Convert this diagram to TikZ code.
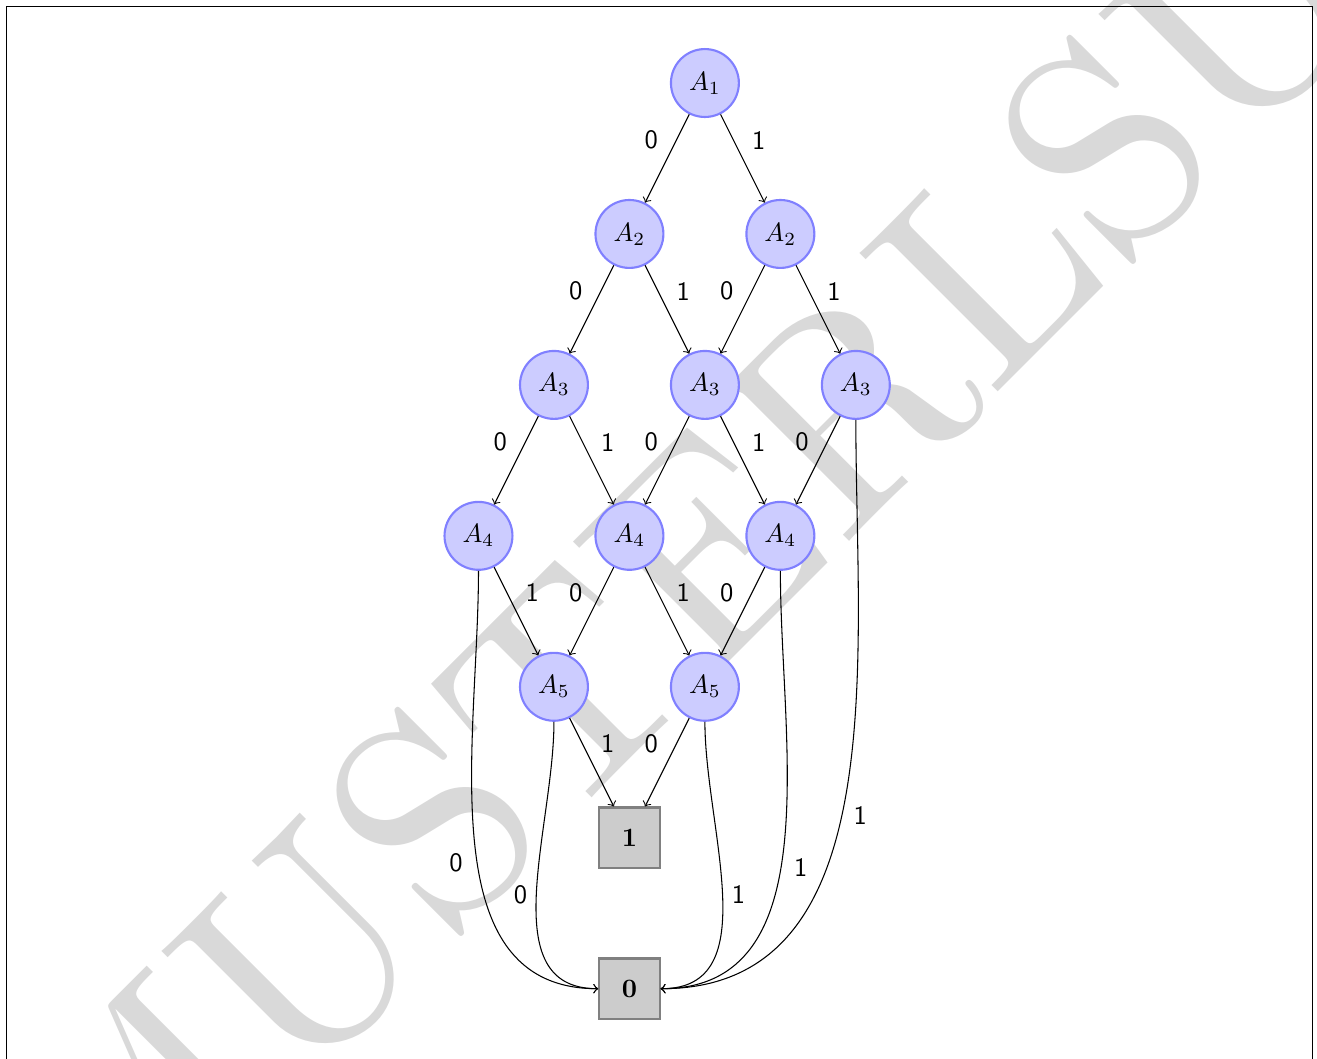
\documentclass[tikz,border=0pt]{standalone}
\usepackage{amsmath}
\usepackage{tikz}
\usetikzlibrary{calc,backgrounds}
\tikzstyle{obdd}=[
  >=to, font=\sffamily, auto
]
\tikzstyle{varnode}=[
  draw=blue!50, fill=blue!20, circle, thick, inner sep=0pt, minimum size=0.9cm
]
\tikzstyle{terminal}=[
  draw=gray, fill=gray!40, thick, inner sep=0pt, minimum size=0.8cm, font=\rmfamily\bfseries
]
\tikzstyle{edge}=[
  ->
]
\tikzstyle{wmark}=[
  text=gray!30, inner sep=0pt, rotate=45, scale=10.8, transform shape, font=\rmfamily
]

\begin{document}
\begin{tikzpicture}[obdd]
  \def\lvl{2}
  \useasboundingbox (-9.34,-12.93) rectangle (8.11,1.10);
  \clip (-9.34,-12.93) rectangle (8.11,1.10);
  % watermark and page frame
  \coordinate (wmbase) at (3.74,-4.24);
  \node (wm) at (wmbase) [wmark, anchor=base west] {\llap{MUSTER}LSUNG};
  \draw [line width=0.5pt] (-9.25,-13.5) -- (-9.25,1.01) -- (8.05,1.01) -- (8.05,-13.5);

  \node (a1) at (0, 0) [varnode] {$A_1$};
  \node (a2a) at (-1, -\lvl) [varnode] {$A_2$};
  \node (a2b) at (1, -\lvl) [varnode] {$A_2$};
  \node (a3a) at (-2, -2*\lvl) [varnode] {$A_3$};
  \node (a3b) at (0, -2*\lvl) [varnode] {$A_3$};
  \node (a3c) at (2, -2*\lvl) [varnode] {$A_3$};
  \node (a4a) at (-3, -3*\lvl) [varnode] {$A_4$};
  \node (a4b) at (-1, -3*\lvl) [varnode] {$A_4$};
  \node (a4c) at (1, -3*\lvl) [varnode] {$A_4$};
  \node (a5a) at (-2, -4*\lvl) [varnode] {$A_5$};
  \node (a5b) at (0, -4*\lvl) [varnode] {$A_5$};
  \node (one) at (-1, -5*\lvl) [terminal] {1};
  \node (zero) at (-1, -6*\lvl) [terminal] {0};

  \draw [edge] (a1) -- node [above left] {0} (a2a);
  \draw [edge] (a1) -- node [above right] {1} (a2b);
  \draw [edge] (a2a) -- node [above left] {0} (a3a);
  \draw [edge] (a2a) -- node [above right] {1} (a3b);
  \draw [edge] (a2b) -- node [above left] {0} (a3b);
  \draw [edge] (a2b) -- node [above right] {1} (a3c);
  \draw [edge] (a3a) -- node [above left] {0} (a4a);
  \draw [edge] (a3a) -- node [above right] {1} (a4b);
  \draw [edge] (a3b) -- node [above left] {0} (a4b);
  \draw [edge] (a3b) -- node [above right] {1} (a4c);
  \draw [edge] (a3c) -- node [above left] {0} (a4c);
  \draw [edge] (a4a) -- node [above right] {1} (a5a);
  \draw [edge] (a4b) -- node [above left] {0} (a5a);
  \draw [edge] (a4b) -- node [above right] {1} (a5b);
  \draw [edge] (a4c) -- node [above left] {0} (a5b);
  \draw [edge] (a5a) -- node [above right] {1} (one);
  \draw [edge] (a5b) -- node [above left] {0} (one);

  % long edges into the 0 terminal
  \draw [edge] (a4a) to [out=-90, in=180] node [pos=0.54, left=2pt] {0} (zero);
  \draw [edge] (a5a) to [out=-90, in=180] node [pos=0.5, left] {0} (zero);
  \draw [edge] (a5b) to [out=-90, in=0] node [pos=0.5, right] {1} (zero);
  \draw [edge] (a4c) to [out=-90, in=0] node [pos=0.55, right=1.5pt] {1} (zero);
  \draw [edge] (a3c) to [out=-90, in=0] node [pos=0.535, right=1pt] {1} (zero);
\end{tikzpicture}
\end{document}
